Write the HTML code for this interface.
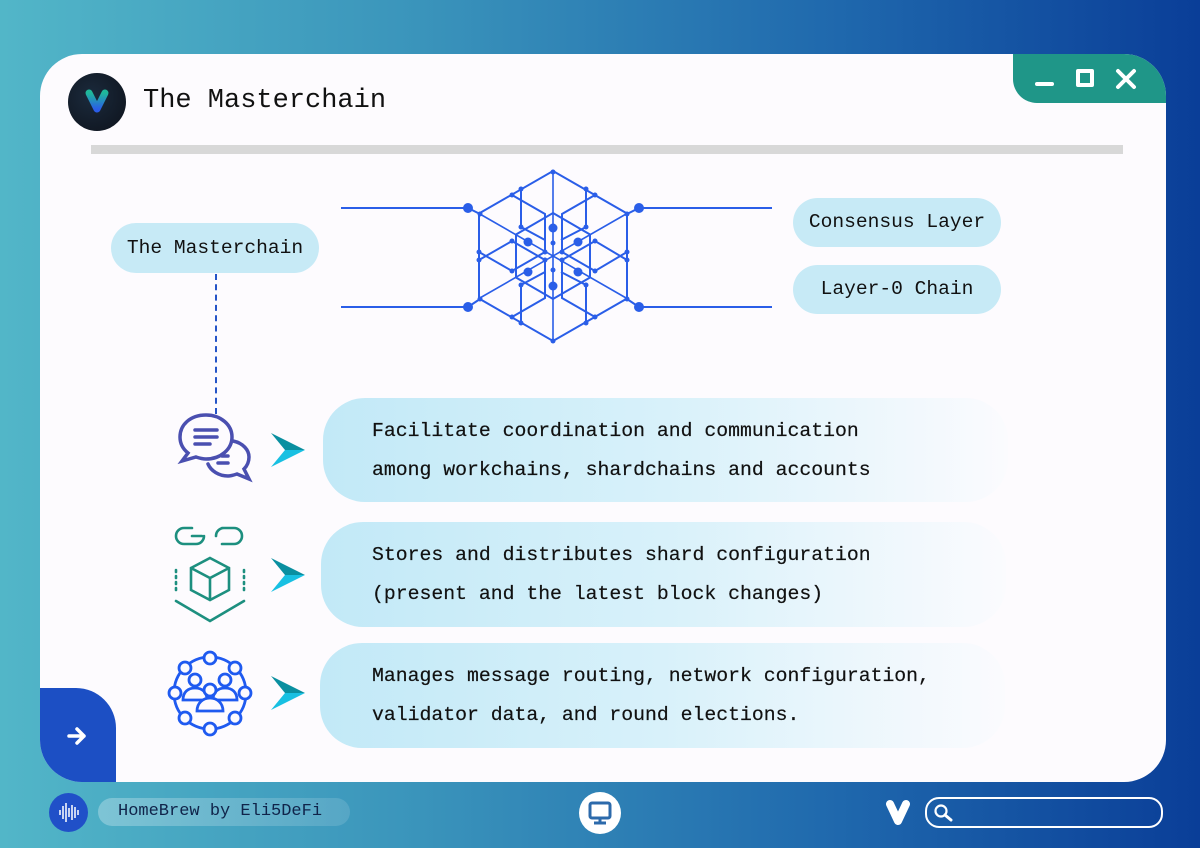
<!DOCTYPE html>
<html><head><meta charset="utf-8"><style>
*{margin:0;padding:0;box-sizing:border-box}
body{width:1200px;height:848px;overflow:hidden;position:relative;font-family:"Liberation Mono",monospace;background:linear-gradient(90deg,#52b6c8 0%,#3a94bb 35%,#1f68ad 70%,#0a3e98 100%)}
.abs{position:absolute}
.win{left:40px;top:54px;width:1126px;height:728px;background:#fdfbfe;border-radius:42px}
.teal{left:1013px;top:54px;width:153px;height:49px;background:#1f9688;border-radius:0 42px 0 24px}
.pill{background:#c7eaf6;border-radius:25px;color:#111;font-size:19.6px;text-align:center;line-height:49px;height:49px}
.box{border-radius:42px;background:linear-gradient(90deg,#c2e9f7 0%,#d8f1fa 50%,#fbfbfe 100%);font-size:19.8px;color:#111;line-height:39px;padding-top:14px;-webkit-text-stroke:0.2px #111}
</style></head><body>
<div class="abs win"></div>
<div class="abs teal"></div>
<div class="abs" style="left:1035px;top:82px;width:19px;height:4px;background:#fff;border-radius:2px"></div>
<div class="abs" style="left:1076px;top:69px;width:18px;height:18px;border:4px solid #fff;border-radius:2px"></div>
<svg class="abs" style="left:1115px;top:68px" width="22" height="22"><path d="M3 3L19 19M19 3L3 19" stroke="#fff" stroke-width="4" stroke-linecap="round"/></svg>

<div class="abs" style="left:68px;top:73px;width:58px;height:58px;border-radius:50%;background:radial-gradient(circle at 40% 40%,#1b2a3c,#0d121b)"></div>
<svg class="abs" style="left:68px;top:73px" width="58" height="58"><path d="M21 20 L29 36 L37 20" stroke="url(#lg)" stroke-width="7" fill="none" stroke-linecap="round" stroke-linejoin="round"/><defs><linearGradient id="lg" x1="0" y1="0" x2="0" y2="1"><stop offset="0" stop-color="#1fb89a"/><stop offset="1" stop-color="#2a5de8"/></linearGradient></defs></svg>
<div class="abs" style="left:143px;top:86px;font-size:27px;color:#111">The Masterchain</div>
<div class="abs" style="left:91px;top:145px;width:1032px;height:9px;background:#d8d8d8"></div>

<div class="abs pill" style="left:111px;top:223px;width:208px;height:50px;line-height:50px">The Masterchain</div>
<div class="abs pill" style="left:793px;top:198px;width:208px">Consensus Layer</div>
<div class="abs pill" style="left:793px;top:265px;width:208px">Layer-0 Chain</div>
<div class="abs" style="left:215px;top:274px;height:140px;border-left:2px dashed #2554c7"></div>

<svg class="abs" style="left:0;top:0" width="1200" height="400">
<g stroke="#2a5ee8" stroke-width="2" fill="none">
<path d="M341 208H468M341 307H468M639 208H772M639 307H772"/>
<path d="M468 208L480 214M468 307L480 299M639 208L627 214M639 307L627 299"/>
<path d="M553 171L627 213.5L627 298.5L553 341L479 298.5L479 213.5Z"/>
<path d="M553 171V341M479 213.5L627 298.5M479 298.5L627 213.5" stroke-width="1.6"/>
<path d="M553 213L590 234.5L590 277.5L553 299L516 277.5L516 234.5Z"/>
<path d="M521 189V227L545 240M586 189V227L561 240M521 323V285L545 272M586 323V285L561 272"/>
<path d="M512 195L545 214V252M595 195L562 214V252M512 317L545 298V260M595 317L562 298V260"/>
<path d="M479 252L512 271L545 252M627 252L595 271L562 252M479 260L512 241L545 260M627 260L595 241L562 260"/>
</g>
<g fill="#2a5ee8">
<circle cx="468" cy="208" r="5"/><circle cx="468" cy="307" r="5"/><circle cx="639" cy="208" r="5"/><circle cx="639" cy="307" r="5"/>
<circle cx="553" cy="228" r="4.5"/><circle cx="553" cy="286" r="4.5"/><circle cx="528" cy="242" r="4.5"/><circle cx="578" cy="242" r="4.5"/><circle cx="528" cy="272" r="4.5"/><circle cx="578" cy="272" r="4.5"/>
<circle cx="553" cy="172" r="2.5"/><circle cx="553" cy="341" r="2.5"/><circle cx="480" cy="214" r="2.5"/><circle cx="627" cy="214" r="2.5"/><circle cx="480" cy="299" r="2.5"/><circle cx="627" cy="299" r="2.5"/>
<circle cx="521" cy="189" r="2.5"/><circle cx="586" cy="189" r="2.5"/><circle cx="521" cy="227" r="2.5"/><circle cx="586" cy="227" r="2.5"/><circle cx="521" cy="323" r="2.5"/><circle cx="586" cy="323" r="2.5"/><circle cx="521" cy="285" r="2.5"/><circle cx="586" cy="285" r="2.5"/>
<circle cx="512" cy="195" r="2.5"/><circle cx="595" cy="195" r="2.5"/><circle cx="512" cy="317" r="2.5"/><circle cx="595" cy="317" r="2.5"/>
<circle cx="479" cy="252" r="2.5"/><circle cx="479" cy="260" r="2.5"/><circle cx="627" cy="252" r="2.5"/><circle cx="627" cy="260" r="2.5"/>
<circle cx="512" cy="271" r="2.5"/><circle cx="512" cy="241" r="2.5"/><circle cx="595" cy="271" r="2.5"/><circle cx="595" cy="241" r="2.5"/>
<circle cx="545" cy="252" r="2.5"/><circle cx="562" cy="252" r="2.5"/><circle cx="545" cy="260" r="2.5"/><circle cx="562" cy="260" r="2.5"/><circle cx="553" cy="243" r="2.5"/><circle cx="553" cy="270" r="2.5"/>
</g></svg>

<div class="abs box" style="left:323px;top:398px;width:685px;height:104px;padding-left:49px">Facilitate coordination and communication<br>among workchains, shardchains and accounts</div>
<div class="abs box" style="left:321px;top:522px;width:685px;height:105px;padding-left:51px">Stores and distributes shard configuration<br>(present and the latest block changes)</div>
<div class="abs box" style="left:320px;top:643px;width:685px;height:105px;padding-left:52px">Manages message routing, network configuration,<br>validator data, and round elections.</div>

<svg class="abs" style="left:0;top:0" width="320" height="760">
<defs><g id="ar"><path d="M0 0L34 17L14 17Z" fill="#0a8fa0"/><path d="M0 34L34 17L14 17Z" fill="#18c0e2"/></g></defs>
<use href="#ar" x="271" y="433"/><use href="#ar" x="271" y="558"/><use href="#ar" x="271" y="676"/>
<g stroke="#4a4fb0" stroke-width="3.5" fill="none" stroke-linecap="round">
<path d="M233 441c10 2 16 9 16 16 0 5-2 9-5 12l5 10-12-5c-3 1-6 2-9 2-9 0-17-5-20-12" fill="#fdfbfe"/>
<path d="M218 463h10M222 456h6"/>
<path d="M206 415c-16 0-26 10-26 22 0 7 3 12 8 16l-6 8 14-4c3 1 7 2 10 2 15 0 26-10 26-22s-11-22-26-22z" fill="#fdfbfe"/>
<path d="M195 430h22M195 437h22M195 444h15"/>
</g>
<g stroke="#1d8f7f" stroke-width="2.6" fill="none" stroke-linecap="round">
<path d="M192 528h-8a8 8 0 0 0 0 16h12a8 8 0 0 0 8-8M202 536h-10"/>
<path d="M222 528h12a8 8 0 0 1 0 16h-12M216 536a8 8 0 0 1 8-8"/>
<path d="M210 558l19 10v22l-19 10l-19-10v-22zM191 568l19 10l19-10M210 578v22"/>
<path d="M176 601l34 20l34-20"/>
<path d="M176 570v2M176 576v2M176 582v2M176 588v2M244 570v2M244 576v2M244 582v2M244 588v2"/>
</g>
<g stroke="#1f5af0" stroke-width="2.8" fill="#fdfbfe">
<circle cx="210" cy="693" r="36" fill="none"/>
<circle cx="210" cy="658" r="6"/><circle cx="210" cy="729" r="6"/><circle cx="175" cy="693" r="6"/><circle cx="245" cy="693" r="6"/>
<circle cx="185" cy="668" r="6"/><circle cx="235" cy="668" r="6"/><circle cx="185" cy="718" r="6"/><circle cx="235" cy="718" r="6"/>
<circle cx="195" cy="680" r="6"/><circle cx="225" cy="680" r="6"/><path d="M183 700c0-8 5-12 12-12s12 4 12 12zM213 700c0-8 5-12 12-12s12 4 12 12z"/>
<circle cx="210" cy="690" r="6"/><path d="M197 711c0-8 6-13 13-13s13 5 13 13z"/>
</g></svg>

<div class="abs" style="left:40px;top:688px;width:76px;height:94px;background:#1c4fc4;border-radius:0 40px 0 42px"></div>
<svg class="abs" style="left:66px;top:725px" width="22" height="22"><path d="M3 11H18M11 4L18 11L11 18" stroke="#fff" stroke-width="3.5" fill="none" stroke-linecap="round" stroke-linejoin="round"/></svg>

<div class="abs" style="left:49px;top:793px;width:39px;height:39px;border-radius:50%;background:#2050c8"></div>
<svg class="abs" style="left:49px;top:793px" width="39" height="39"><path d="M11 17v5M14 13v13M17 10v19M20 15v9M23 12v15M26 14v11M29 17v5" stroke="#fff" stroke-width="1.5"/></svg>
<div class="abs" style="left:98px;top:798px;width:252px;height:28px;border-radius:14px;background:linear-gradient(90deg,rgba(255,255,255,.28),rgba(255,255,255,.12));font-size:17px;color:#10244a;line-height:28px;padding-left:20px">HomeBrew by Eli5DeFi</div>
<div class="abs" style="left:579px;top:792px;width:42px;height:42px;border-radius:50%;background:#fff"></div>
<svg class="abs" style="left:579px;top:792px" width="42" height="42"><rect x="11" y="11" width="20" height="15" rx="2" stroke="#2c6aab" stroke-width="3" fill="none"/><path d="M21 26v5M15 31h12" stroke="#2c6aab" stroke-width="3"/></svg>
<svg class="abs" style="left:884px;top:797px" width="30" height="32"><path d="M6 7L14 24L22 7" stroke="#fff" stroke-width="8" fill="none" stroke-linecap="round" stroke-linejoin="round"/></svg>
<div class="abs" style="left:925px;top:797px;width:238px;height:31px;border:2px solid #fff;border-radius:14px"></div>
<svg class="abs" style="left:933px;top:803px" width="22" height="20"><circle cx="8" cy="8" r="5.5" stroke="#fff" stroke-width="2.2" fill="none"/><path d="M12 12L18 17" stroke="#fff" stroke-width="3" stroke-linecap="round"/></svg>
</body></html>
